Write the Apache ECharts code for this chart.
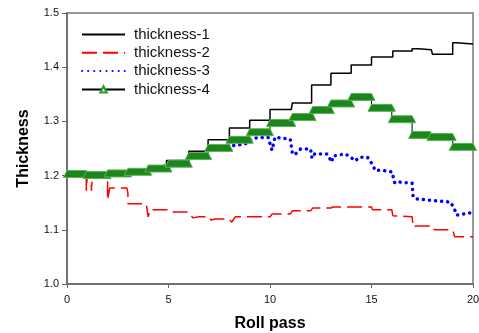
<!DOCTYPE html>
<html>
<head>
<meta charset="utf-8">
<script src="https://cdn.jsdelivr.net/npm/echarts@6/dist/echarts.min.js"></script>
<style>
  html, body { margin: 0; padding: 0; background: #fff; }
  #chart { width: 479px; height: 333px; }
</style>
</head>
<body>
<div id="chart"></div>
<script>
// 各曲线数据，[轧程, 厚度]
const xTicks = [0, 5, 10, 15, 20];
const yTicks = [1.0, 1.1, 1.2, 1.3, 1.4, 1.5];

const thickness1 = [
  [0, 1.202], [1, 1.202], [1, 1.2], [2, 1.2], [2, 1.205], [3, 1.205], [3, 1.208], [4, 1.208],
  [4, 1.215], [4.9, 1.215], [4.9, 1.228], [6.0, 1.228], [6.0, 1.245], [6.95, 1.245],
  [6.95, 1.266], [8.0, 1.266], [8.0, 1.288], [9.0, 1.288], [9.0, 1.302], [10.0, 1.302],
  [10.0, 1.322], [11.05, 1.322], [11.1, 1.334], [12.05, 1.334], [12.05, 1.367], [13.0, 1.367],
  [13.0, 1.389], [14.0, 1.389], [14.0, 1.404], [15.0, 1.404], [15.0, 1.419], [16.05, 1.419],
  [16.05, 1.430], [17.0, 1.430], [17.0, 1.434], [17.3, 1.434], [17.35, 1.432], [17.95, 1.432],
  [18.0, 1.424], [19.0, 1.424], [19.0, 1.445], [19.2, 1.445], [19.25, 1.443], [20, 1.443]
];

const thickness2 = [
  [0, 1.2], [0.95, 1.2], [0.95, 1.172], [1.0, 1.2], [1.2, 1.2], [1.2, 1.172], [1.25, 1.2],
  [2.0, 1.2], [2.0, 1.155], [2.1, 1.177], [2.95, 1.177], [3.0, 1.168], [3.0, 1.148],
  [3.9, 1.148], [4.0, 1.124], [4.1, 1.137], [5.0, 1.137], [5.1, 1.133], [6.0, 1.133],
  [6.2, 1.122], [6.5, 1.124], [7.0, 1.124], [7.1, 1.118], [7.3, 1.12], [8.0, 1.12],
  [8.1, 1.114], [8.3, 1.124], [10.0, 1.124], [10.1, 1.129], [11.0, 1.129], [11.1, 1.135],
  [12.0, 1.135], [12.1, 1.14], [13.0, 1.14], [13.1, 1.142], [15.0, 1.142], [15.05, 1.137],
  [16.0, 1.137], [16.05, 1.126], [17.0, 1.124], [17.05, 1.105], [17.2, 1.107], [18.0, 1.107],
  [18.1, 1.1], [19.0, 1.1], [19.1, 1.087], [20.0, 1.087]
];

const thickness3 = [
  [0, 1.2], [1, 1.2], [2, 1.203], [3, 1.206], [4, 1.211], [5, 1.219], [6, 1.23], [7, 1.247],
  [8.08, 1.255], [8.77, 1.258], [9.17, 1.269], [9.9, 1.271], [10.1, 1.247], [10.25, 1.271],
  [10.6, 1.269], [11.0, 1.267], [11.1, 1.242], [11.2, 1.238], [11.5, 1.249], [12.0, 1.249],
  [12.07, 1.232], [12.2, 1.24], [12.8, 1.24], [13.05, 1.225], [13.1, 1.236], [13.7, 1.24],
  [13.9, 1.236], [14.2, 1.227], [14.4, 1.234], [14.8, 1.234], [15.0, 1.223], [15.2, 1.209],
  [15.4, 1.21], [16.0, 1.207], [16.15, 1.186], [16.4, 1.188], [17.0, 1.186], [17.05, 1.161],
  [17.2, 1.157], [18.9, 1.151], [19.1, 1.137], [19.2, 1.127], [19.85, 1.131], [20, 1.131]
];

// thickness-4 各平台 [起点, 终点, 厚度]
const thickness4 = [
  [0, 0.95, 1.203], [0.95, 2.0, 1.201], [2.0, 3.0, 1.204], [3.0, 4.0, 1.207],
  [4.0, 5.0, 1.213], [5.0, 6.0, 1.222], [6.0, 6.95, 1.236], [6.95, 8.0, 1.251],
  [8.0, 9.0, 1.266], [9.0, 10.0, 1.28], [10.0, 11.1, 1.297], [11.1, 12.1, 1.308],
  [12.1, 13.0, 1.321], [13.0, 14.0, 1.333], [14.0, 15.0, 1.345], [15.0, 16.0, 1.325],
  [16.0, 17.0, 1.304], [17.0, 17.9, 1.275], [17.9, 19.0, 1.271], [19.0, 20.0, 1.253]
];

const thickness4Line = [];
thickness4.forEach(function (p) {
  thickness4Line.push([p[0], p[2]], [p[1], p[2]]);
});

const chart = echarts.init(document.getElementById('chart'));

const font = 'Liberation Sans, Arial, sans-serif';
// 图例里不画圆点
const noSymbol = { color: 'rgba(0,0,0,0)', borderColor: 'rgba(0,0,0,0)', borderWidth: 0 };

const option = {
  animation: false,
  grid: {
    left: 67, right: 6, top: 13, bottom: 49,
    outerBoundsMode: 'none',
    show: true,
    borderColor: '#777',
    borderWidth: 1.5
  },
  legend: {
    orient: 'vertical',
    left: 76,
    top: 22,
    itemWidth: 43,
    itemHeight: 8,
    itemGap: 3.3,
    textStyle: { fontFamily: font, fontSize: 15, color: '#111', padding: [0, 0, 0, 4] },
    data: [
      { name: 'thickness-1', itemStyle: noSymbol },
      { name: 'thickness-2', itemStyle: noSymbol },
      { name: 'thickness-3', itemStyle: noSymbol },
      { name: 'thickness-4' }
    ]
  },
  xAxis: {
    type: 'value',
    min: 0, max: 20, interval: 5,
    name: 'Roll pass',
    nameLocation: 'middle',
    nameGap: 32,
    nameTextStyle: { fontFamily: font, fontSize: 16, fontWeight: 'bold', color: '#000' },
    axisLine: { lineStyle: { color: '#666', width: 1.5 } },
    axisTick: { show: true, length: 4, lineStyle: { color: '#666' } },
    axisLabel: {
      margin: 10, fontFamily: font, fontSize: 11, color: '#111',
      formatter: function (v) { return xTicks.indexOf(v) >= 0 ? String(v) : ''; }
    },
    splitLine: { show: false }
  },
  yAxis: {
    type: 'value',
    min: 1.0, max: 1.5, interval: 0.1,
    name: 'Thickness',
    nameLocation: 'middle',
    nameGap: 35,
    nameTextStyle: { fontFamily: font, fontSize: 16, fontWeight: 'bold', color: '#000' },
    axisLine: { show: true, lineStyle: { color: '#666', width: 1.5 } },
    axisTick: { show: true, length: 5, lineStyle: { color: '#666' } },
    axisLabel: {
      margin: 8, fontFamily: font, fontSize: 11, color: '#111',
      formatter: function (v) {
        const t = yTicks.find(function (k) { return Math.abs(k - v) < 1e-6; });
        return t === undefined ? '' : t.toFixed(1);
      }
    },
    splitLine: { show: false }
  },
  series: [
    {
      name: 'thickness-1',
      type: 'line',
      data: thickness1,
      symbol: 'none',
      color: '#000',
      lineStyle: { color: '#000', width: 1.5 },
      z: 3
    },
    {
      name: 'thickness-2',
      type: 'line',
      data: thickness2,
      symbol: 'none',
      color: '#ff0000',
      lineStyle: { color: '#ff0000', width: 1.5, type: [15, 6] },
      z: 2
    },
    {
      name: 'thickness-3',
      type: 'line',
      data: thickness3,
      symbol: 'none',
      color: '#0000ff',
      lineStyle: { color: '#0000ff', width: 3.5, type: [0.1, 6], cap: 'round' },
      z: 2
    },
    {
      name: 'thickness-4',
      type: 'line',
      data: thickness4Line,
      showSymbol: false,
      symbol: 'triangle',
      symbolSize: 7,
      itemStyle: { color: '#e8f8e8', borderColor: '#2a9a2a', borderWidth: 1 },
      lineStyle: { color: '#000', width: 1 },
      z: 4
    },
    {
      // 密集三角形标记形成的绿色带
      name: 'thickness-4-band',
      type: 'custom',
      data: thickness4,
      encode: { x: [0, 1], y: 2 },
      z: 5,
      renderItem: function (params, api) {
        const a = api.coord([api.value(0), api.value(2)]);
        const b = api.coord([api.value(1), api.value(2)]);
        return {
          type: 'polygon',
          shape: {
            points: [
              [a[0] - 3.5, a[1] + 3.5],
              [a[0], a[1] - 3.5],
              [b[0], b[1] - 3.5],
              [b[0] + 3.5, b[1] + 3.5]
            ]
          },
          style: { fill: '#1c861c', stroke: '#56b456', lineWidth: 1 }
        };
      }
    }
  ]
};

chart.setOption(option);
</script>
</body>
</html>
